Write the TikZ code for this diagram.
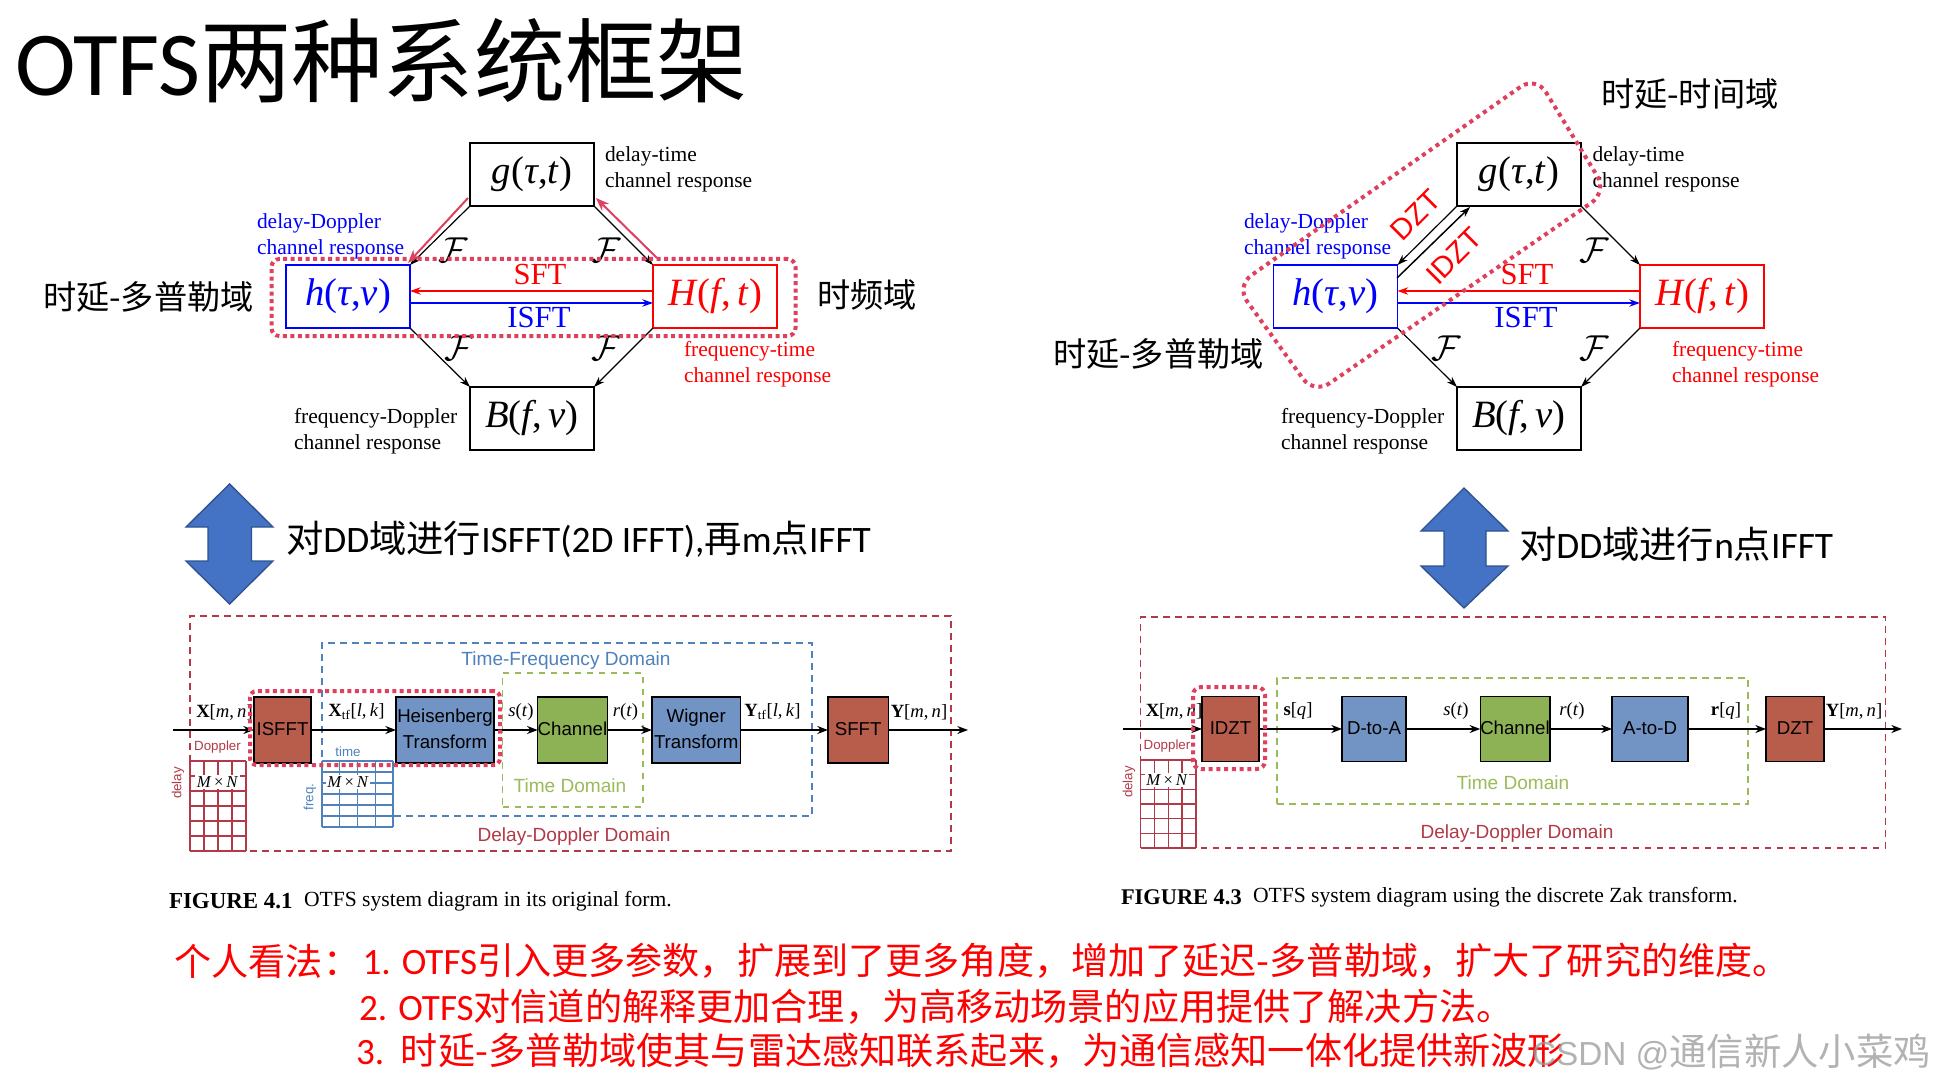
\documentclass[tikz,border=0pt]{standalone}
\usepackage{fontspec}
\usepackage{graphicx}
\usetikzlibrary{arrows.meta,calc}
\setmainfont{Liberation Serif}
\setsansfont{Liberation Sans}
\newfontfamily\cjk{Noto Sans CJK SC}
\newfontfamily\lat{Carlito}
\newcommand{\fsz}[1]{\fontsize{#1}{#1}\selectfont}
\newcommand{\mx}{\textit{M}\,×\,\textit{N}}
\newcommand{\tf}{\textsubscript{tf}}
\newcommand{\scrF}{\scalebox{2.7}{$\mathcal{F}$}}
\newcommand{\fm}[1]{\raisebox{-1.5pt}{#1}}
\newcommand{\up}[1]{\raisebox{1.5pt}{#1}}
\newcommand{\twol}[2]{\raisebox{2.5pt}{\begin{tabular}{@{}c@{}}#1\\#2\end{tabular}}}
\def\px{0.75pt}
\definecolor{ddred}{HTML}{B23A48}
\definecolor{tfblue}{HTML}{4F81BD}
\definecolor{tgreen}{HTML}{9BBB59}
\definecolor{fillred}{HTML}{B85C4C}
\definecolor{fillblue}{HTML}{7194C4}
\definecolor{fillgreen}{HTML}{8DB255}
\definecolor{hl}{HTML}{E0405F}
\definecolor{arrowfill}{HTML}{4472C4}
\definecolor{arrowline}{HTML}{2F528F}
\tikzset{
  wh/.style 2 args={minimum width=#1*\px,minimum height=#2*\px},
  fbox/.style={draw,line width=1.1pt,inner sep=0pt,outer sep=0pt,wh={124}{63},font=\fsz{29}},
  txt/.style={inner sep=0pt,outer sep=0pt,anchor=west,align=left},
  chan/.style={txt,font=\fontsize{16.1}{19.5}\selectfont},
  big/.style={txt,font=\fsz{24.9}\cjk},
  sf/.style={inner sep=0pt,outer sep=0pt,font=\fsz{23}},
  ff/.style={inner sep=0pt,outer sep=0pt},
  con/.style={-{Stealth[length=8pt,width=5.5pt]},line width=0.9pt},
  hlcon/.style={-{Stealth[length=10pt,width=7.5pt]},line width=1.5pt,draw=hl},
  rzt/.style={inner sep=0pt,outer sep=0pt,rotate=45,text=red,font=\sffamily\fsz{22}},
  blk/.style={draw,line width=1.1pt,inner sep=0pt,outer sep=0pt,align=center,font=\sffamily\fontsize{14}{19.5}\selectfont},
  flow/.style={-{Stealth[length=8pt,width=6pt]},line width=1.1pt},
  sig/.style={inner sep=0pt,outer sep=0pt,anchor=center,font=\fsz{14}},
  dashred/.style={draw=ddred,line width=1.1pt,dash pattern=on 5pt off 4pt,inner sep=0pt,outer sep=0pt},
  dashblue/.style={draw=tfblue,line width=1.1pt,dash pattern=on 5pt off 4pt,inner sep=0pt,outer sep=0pt},
  dashgreen/.style={draw=tgreen,line width=1.1pt,dash pattern=on 5pt off 4pt,inner sep=0pt,outer sep=0pt},
  dom/.style={inner sep=0pt,outer sep=0pt,font=\sffamily\fsz{14.3}},
  small/.style={inner sep=0pt,outer sep=0pt,font=\sffamily\fsz{10}},
  mn/.style={fill=white,inner sep=1pt,outer sep=0pt,font=\fsz{12.5}},
  hlthick/.style={draw=hl,line width=3pt,dash pattern=on 3pt off 2.6pt,rounded corners=6pt,inner sep=0pt,outer sep=0pt},
  hlthin/.style={draw=hl,line width=3pt,dash pattern=on 3pt off 3.2pt},
  bigarrow/.style={fill=arrowfill,draw=arrowline,line width=1pt,line join=miter},
  bodytxt/.style={txt,text=red,font=\fsz{27.85}},
  capt/.style={txt,font=\fsz{16.2}},
}
\begin{document}
\begin{tikzpicture}[x=0.75pt,y=-0.75pt]
\useasboundingbox (0,0) rectangle (1938,1084);
\fill[white] (0,0) rectangle (1938,1084);

% title
\node[txt] (title) at (15,61) {\fsz{68.5}{\lat OTFS}{\cjk 两种系统框架}};

% ---------- left octagon
\node[fbox] (g) at (532,174.5) {\fm{\textit{g}(\textit{τ},\textit{t})}};
\node[fbox,draw=blue,text=blue] (h) at (348,296.5) {\fm{\textit{h}(\textit{τ},\textit{ν})}};
\node[fbox,draw=red,text=red] (H) at (715,296.5) {\fm{\textit{H}(\textit{f},\,\textit{t})}};
\node[fbox] (B) at (532,418.5) {\fm{\textit{B}(\textit{f},\,\textit{ν})}};
\draw[con] (g.south west) -- (h.north east);
\draw[con] (g.south east) -- (H.north west);
\draw[con] (h.south east) -- (B.north west);
\draw[con] (H.south west) -- (B.north east);
\coordinate (hr1) at ($(h.east)+(0,-5.5)$);
\coordinate (Hl1) at ($(H.west)+(0,-5.5)$);
\coordinate (hr2) at ($(h.east)+(0,6.5)$);
\coordinate (Hl2) at ($(H.west)+(0,6.5)$);
\draw[con,draw=red,line width=1.2pt] (Hl1) -- (hr1);
\draw[con,draw=blue,line width=1.2pt] (hr2) -- (Hl2);
\node[sf,text=red] (sft1) at (540,274) {SFT};
\node[sf,text=blue] (isft1) at (539,317) {ISFT};
\node[ff] (f1) at (453,250) {\scrF};
\node[ff] (f2) at (606,250) {\scrF};
\node[ff] (f3) at (459,348) {\scrF};
\node[ff] (f4) at (606,348) {\scrF};
\node[chan] (lb1) at (605,169) {delay-time\\channel response};
\node[chan,text=blue] (lb2) at (257,236) {delay-Doppler\\channel response};
\node[chan,text=red] (lb3) at (684,364) {frequency-time\\channel response};
\node[chan] (lb4) at (294,431) {frequency-Doppler\\channel response};
\node[hlthick,wh={524}{77}] (hl1) at (533.5,297.5) {};
\coordinate (ra1) at (468,198);
\coordinate (ra2) at (408,263);
\coordinate (rb1) at (657,258);
\coordinate (rb2) at (596,198);
\draw[hlcon] (ra1) -- (ra2);
\draw[hlcon] (rb1) -- (rb2);
\node[big] (c1) at (43,297) {时延-多普勒域};
\node[big] (c2) at (817,295) {时频域};

% ---------- right octagon
\node[fbox] (g2) at (1519,174.5) {\fm{\textit{g}(\textit{τ},\textit{t})}};
\node[fbox,draw=blue,text=blue] (h2) at (1335.5,296.5) {\fm{\textit{h}(\textit{τ},\textit{ν})}};
\node[fbox,draw=red,text=red] (H2) at (1702,296.5) {\fm{\textit{H}(\textit{f},\,\textit{t})}};
\node[fbox] (B2) at (1519,418.5) {\fm{\textit{B}(\textit{f},\,\textit{ν})}};
\draw[con] (g2.south west) -- (h2.north east);
\draw[con] (g2.south east) -- (H2.north west);
\draw[con] (h2.south east) -- (B2.north west);
\draw[con] (H2.south west) -- (B2.north east);
\coordinate (idz1) at (1397,278);
\coordinate (idz2) at (1470,207);
\draw[con,line width=1.1pt] (idz1) -- (idz2);
\coordinate (hr3) at ($(h2.east)+(0,-5.5)$);
\coordinate (Hl3) at ($(H2.west)+(0,-5.5)$);
\coordinate (hr4) at ($(h2.east)+(0,6.5)$);
\coordinate (Hl4) at ($(H2.west)+(0,6.5)$);
\draw[con,draw=red,line width=1.2pt] (Hl3) -- (hr3);
\draw[con,draw=blue,line width=1.2pt] (hr4) -- (Hl4);
\node[sf,text=red] (sft2) at (1527,274) {SFT};
\node[sf,text=blue] (isft2) at (1526,317) {ISFT};
\node[rzt] (dzt) at (1416,215) {DZT};
\node[rzt] (idzt) at (1454,256) {IDZT};
\node[ff] (f5) at (1594,250) {\scrF};
\node[ff] (f6) at (1446,348) {\scrF};
\node[ff] (f7) at (1594,348) {\scrF};
\node[chan] (lb5) at (1592.5,169) {delay-time\\channel response};
\node[chan,text=blue] (lb6) at (1244,236) {delay-Doppler\\channel response};
\node[chan,text=red] (lb7) at (1672,364) {frequency-time\\channel response};
\node[chan] (lb8) at (1281,431) {frequency-Doppler\\channel response};
\draw[hlthin,rounded corners=14pt] (1536,76) -- (1607,192) -- (1314,394) -- (1236,286) -- cycle;
\node[big] (c3) at (1601,94) {时延-时间域};
\node[big] (c4) at (1053,354) {时延-多普勒域};

% ---------- big arrows
\draw[bigarrow] (229.6,484) -- (273,527) -- (251.5,527) -- (251.5,561) -- (273,561) -- (229.6,604) -- (186,561) -- (208,561) -- (208,527) -- (186,527) -- cycle;
\node[txt] (t1) at (286,539) {\fsz{28}{\cjk 对}{\lat DD}{\cjk 域进行}{\lat ISFFT(2D IFFT),}{\cjk 再}{\lat m}{\cjk 点}{\lat IFFT}};
\draw[bigarrow] (1464,488) -- (1508,531) -- (1486,531) -- (1486,566) -- (1508,566) -- (1464,608) -- (1421,566) -- (1444,566) -- (1444,531) -- (1421,531) -- cycle;
\node[txt] (t2) at (1519,544) {\fsz{28}{\cjk 对}{\lat DD}{\cjk 域进行}{\lat n}{\cjk 点}{\lat IFFT}};

% ---------- left block diagram
\node[dashred,wh={761}{235}] (outerA) at (570.5,733.5) {};
\node[dashblue,wh={490}{173}] (tfA) at (567,729.5) {};
\node[dashgreen,wh={140.4}{134}] (tdA) at (572.8,740) {};
\node[dom,text=tfblue] (tA) at (566,661) {Time-Frequency Domain};
\node[dom,text=tgreen] (tB) at (570,786) {Time Domain};
\node[dom,text=ddred] (tC) at (574,836.5) {Delay-Doppler Domain};
% grids
\foreach \yy in {761,776,...,851} \draw[ddred,line width=1.1pt] (190,\yy) -- (246,\yy);
\foreach \xx in {190,204,218,232,246} \draw[ddred,line width=1.1pt] (\xx,761) -- (\xx,851);
\fill[white] (322,761) rectangle (393,827);
\foreach \yy in {761,772,...,827} \draw[tfblue,line width=1.1pt] (322,\yy) -- (393,\yy);
\foreach \xx in {322,339.75,357.5,375.25,393} \draw[tfblue,line width=1.1pt] (\xx,761) -- (\xx,827);
\node[mn] (mnA) at (217.5,782) {\mx};
\node[mn] (mnB) at (348,782) {\mx};
\node[small,text=ddred] (dopA) at (217.5,747) {Doppler};
\node[small,text=ddred,rotate=90] (delA) at (178,783) {delay};
\node[small,text=tfblue] (timeA) at (348,752) {time};
\node[small,text=tfblue,rotate=90] (freqA) at (310,797) {freq.};
% blocks
\node[blk,fill=fillred,wh={57}{66}] (isfft) at (282.5,730) {\up{ISFFT}};
\node[blk,fill=fillblue,wh={98}{66}] (heis) at (445,730) {\twol{Heisenberg}{Transform}};
\node[blk,fill=fillgreen,wh={69}{66}] (ch1) at (572.5,730) {\up{Channel}};
\node[blk,fill=fillblue,wh={88.5}{66}] (wig) at (696.2,730) {\twol{Wigner}{Transform}};
\node[blk,fill=fillred,wh={60.5}{66}] (sffta) at (858.2,730) {\up{SFFT}};
\coordinate (inA) at (173,730);
\coordinate (outA) at (968,730);
\draw[flow] (inA) -- (isfft);
\draw[flow] (isfft) -- (heis);
\draw[flow] (heis) -- (ch1);
\draw[flow] (ch1) -- (wig);
\draw[flow] (wig) -- (sffta);
\draw[flow] (sffta) -- (outA);
\node[sig] (sa) at (224.5,712) {\textbf{X}[\textit{m},\,\textit{n}]};
\node[sig] (sb) at (356.5,712) {\textbf{X}\tf[\textit{l},\,\textit{k}]};
\node[sig] (sc) at (521,712) {\textit{s}(\textit{t})};
\node[sig] (sd) at (625.5,712) {\textit{r}(\textit{t})};
\node[sig] (se) at (772.5,712) {\textbf{Y}\tf[\textit{l},\,\textit{k}]};
\node[sig] (sf1) at (919,712) {\textbf{Y}[\textit{m},\,\textit{n}]};
\node[hlthin,dash pattern=on 3pt off 2.6pt,rounded corners=5pt,inner sep=0pt,outer sep=0pt,wh={250}{74}] (hl2) at (375,728) {};
\node[capt] (capA) at (169,901.5) {\fontsize{17.2}{17.2}\selectfont\textbf{FIGURE 4.1}};
\node[capt] (capAb) at (304,901.5) {OTFS system diagram in its original form.};

% ---------- right block diagram
\node[dashred,wh={745}{231}] (outerB) at (1513,732.5) {};
\node[dashgreen,wh={471}{126}] (tdB) at (1512.5,741) {};
\node[dom,text=tgreen] (tD) at (1513,783) {Time Domain};
\node[dom,text=ddred] (tE) at (1517,833.5) {Delay-Doppler Domain};
\foreach \yy in {760,774.67,789.33,804,818.67,833.33,848} \draw[ddred,line width=1.1pt] (1140.6,\yy) -- (1196,\yy);
\foreach \xx in {1140.6,1154.4,1168.3,1182.2,1196} \draw[ddred,line width=1.1pt] (\xx,760) -- (\xx,848);
\node[mn] (mnC) at (1167,780) {\mx};
\node[small,text=ddred] (dopB) at (1167,746) {Doppler};
\node[small,text=ddred,rotate=90] (delB) at (1129,782) {delay};
\node[blk,fill=fillred,wh={57}{65}] (idztb) at (1230.5,729) {\up{IDZT}};
\node[blk,fill=fillblue,wh={64}{65}] (dta) at (1374,729) {\up{D-to-A}};
\node[blk,fill=fillgreen,wh={68}{65}] (ch2) at (1515,729) {\up{Channel}};
\node[blk,fill=fillblue,wh={76}{65}] (atd) at (1650,729) {\up{A-to-D}};
\node[blk,fill=fillred,wh={58}{65}] (dztb) at (1795,729) {\up{DZT}};
\coordinate (inB) at (1123,729);
\coordinate (outB) at (1902,729);
\draw[flow] (inB) -- (idztb);
\draw[flow] (idztb) -- (dta);
\draw[flow] (dta) -- (ch2);
\draw[flow] (ch2) -- (atd);
\draw[flow] (atd) -- (dztb);
\draw[flow] (dztb) -- (outB);
\node[sig] (ta) at (1174,711) {\textbf{X}[\textit{m},\,\textit{n}]};
\node[sig] (tb) at (1298,711) {\textbf{s}[\textit{q}]};
\node[sig] (tc) at (1456,711) {\textit{s}(\textit{t})};
\node[sig] (td) at (1572,711) {\textit{r}(\textit{t})};
\node[sig] (te) at (1726,711) {\textbf{r}[\textit{q}]};
\node[sig] (tf1) at (1854,711) {\textbf{Y}[\textit{m},\,\textit{n}]};
\node[hlthin,dash pattern=on 3pt off 2.8pt,rounded corners=6pt,inner sep=0pt,outer sep=0pt,wh={72}{82}] (hl3) at (1229,728) {};
\node[capt] (capB) at (1121,897.5) {\fontsize{16.8}{16.8}\selectfont\textbf{FIGURE 4.3}};
\node[capt] (capBb) at (1253,897.5) {OTFS system diagram using the discrete Zak transform.};

% ---------- bottom text
\node[bodytxt] (b0) at (174.5,961) {\cjk 个人看法：};
\node[bodytxt] (b1) at (362.5,961) {{\lat 1. OTFS}{\cjk 引入更多参数，扩展到了更多角度，增加了延迟-多普勒域，扩大了研究的维度。}};
\node[bodytxt] (b2) at (359,1007) {{\lat 2. OTFS}{\cjk 对信道的解释更加合理，为高移动场景的应用提供了解决方法。}};
\node[bodytxt] (b3) at (356,1051) {{\lat 3.\ \ }{\cjk 时延-多普勒域使其与雷达感知联系起来，为通信感知一体化提供新波形}};
\node[txt,text=black!40,opacity=0.75,font=\fsz{28}] (wm) at (1532,1052) {{\sffamily\fontsize{25}{25}\selectfont CSDN @}{\cjk 通信新人小菜鸡}};
\end{tikzpicture}
\end{document}
